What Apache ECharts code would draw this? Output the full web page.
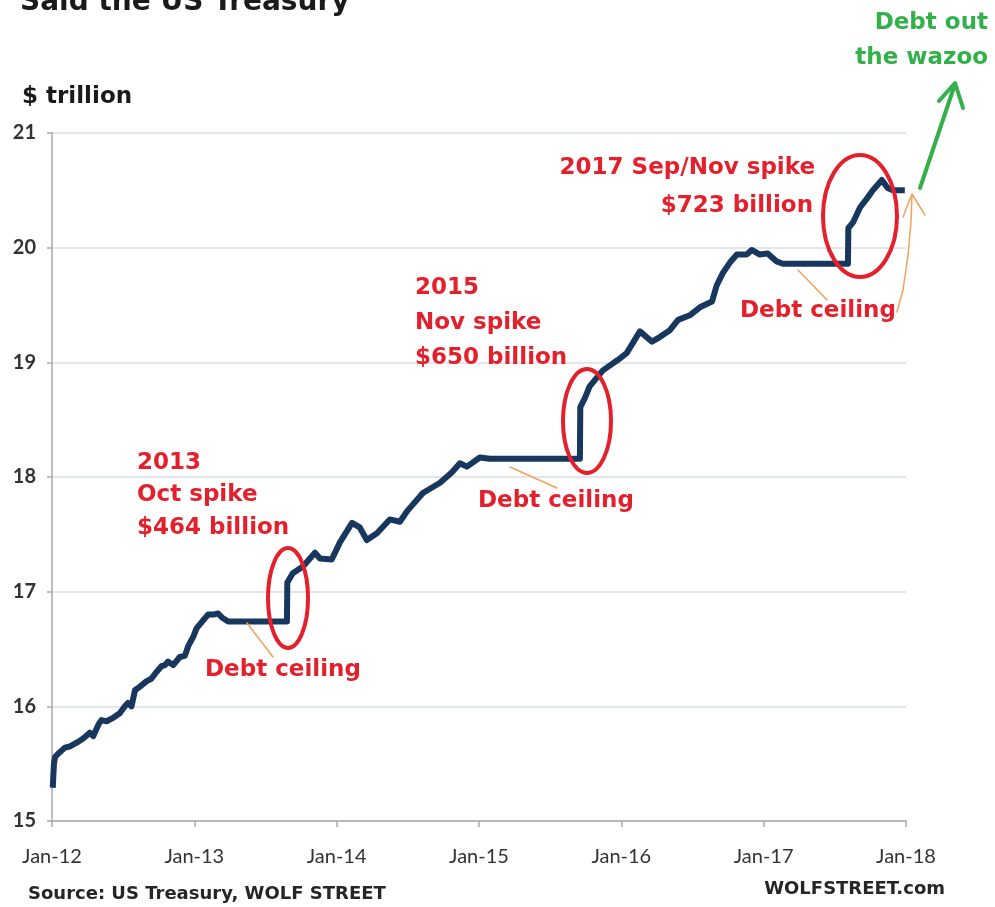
<!DOCTYPE html>
<html>
<head>
<meta charset="utf-8">
<script src="https://cdn.jsdelivr.net/npm/echarts@6.0.0/dist/echarts.min.js"></script>
<style>
	html, body { margin: 0; padding: 0; background: #fff; }
	#chart { width: 995px; height: 907px; }
</style>
</head>
<body>
<div id="chart"></div>
<script>
// Total public debt outstanding, $ trillion
const dates = [
	'2012-01-03', '2012-01-06', '2012-01-09', '2012-01-21', '2012-02-03', '2012-02-16', '2012-03-08', '2012-03-21', '2012-04-07', '2012-04-16',
	'2012-04-29', '2012-05-07', '2012-05-20', '2012-06-06', '2012-06-23', '2012-07-06', '2012-07-14', '2012-07-23', '2012-08-01', '2012-08-13',
	'2012-08-31', '2012-09-12', '2012-09-25', '2012-10-08', '2012-10-17', '2012-10-25', '2012-11-07', '2012-11-24', '2012-12-07', '2012-12-15',
	'2012-12-29', '2013-01-06', '2013-01-23', '2013-02-05', '2013-02-18', '2013-03-02', '2013-03-14', '2013-03-28', '2013-08-26', '2013-08-27',
	'2013-09-10', '2013-10-06', '2013-11-06', '2013-11-19', '2013-12-19', '2014-01-09', '2014-02-09', '2014-03-01', '2014-03-19', '2014-04-14',
	'2014-05-17', '2014-06-12', '2014-06-30', '2014-08-10', '2014-09-23', '2014-10-23', '2014-11-13', '2014-12-01', '2015-01-03', '2015-01-29',
	'2015-09-17', '2015-09-18', '2015-09-30', '2015-10-12', '2015-11-15', '2015-12-23', '2016-01-15', '2016-02-18', '2016-03-20', '2016-04-09',
	'2016-05-05', '2016-05-26', '2016-06-25', '2016-07-21', '2016-08-21', '2016-09-02', '2016-09-18', '2016-10-06', '2016-10-24', '2016-11-18',
	'2016-12-01', '2016-12-22', '2017-01-11', '2017-02-03', '2017-02-19', '2017-08-05', '2017-08-06', '2017-08-18', '2017-09-05', '2017-09-23',
	'2017-10-08', '2017-10-31', '2017-11-15', '2017-11-28', '2017-12-29'
];
const debt = [
	15.29, 15.50, 15.56, 15.60, 15.64, 15.65, 15.69, 15.72, 15.77, 15.74,
	15.84, 15.88, 15.87, 15.90, 15.94, 16.00, 16.03, 16.00, 16.14, 16.17,
	16.22, 16.24, 16.30, 16.35, 16.36, 16.39, 16.36, 16.43, 16.44, 16.52,
	16.61, 16.68, 16.75, 16.80, 16.80, 16.81, 16.77, 16.74, 16.74, 17.08,
	17.16, 17.22, 17.34, 17.29, 17.28, 17.43, 17.60, 17.56, 17.45, 17.51,
	17.63, 17.61, 17.70, 17.86, 17.95, 18.04, 18.12, 18.09, 18.17, 18.16,
	18.16, 18.61, 18.69, 18.79, 18.93, 19.02, 19.08, 19.27, 19.18, 19.22,
	19.28, 19.37, 19.41, 19.48, 19.53, 19.67, 19.78, 19.87, 19.94, 19.94,
	19.98, 19.94, 19.95, 19.88, 19.86, 19.86, 20.17, 20.22, 20.35, 20.43,
	20.50, 20.59, 20.52, 20.50, 20.50
];
const yearLabels = [ 'Jan-12', 'Jan-13', 'Jan-14', 'Jan-15', 'Jan-16', 'Jan-17', 'Jan-18' ];
const yMin = 15;
const yMax = 21;

// x is days since 2012-01-01, so the year ticks can be counted from 0
const DAY = 86400000;
const origin = Date.parse( '2012-01-01' );
const lastDay = ( Date.parse( '2018-01-01' ) - origin ) / DAY;
const toDay = ( s ) => ( Date.parse( s ) - origin ) / DAY;
const seriesData = dates.map( ( d, i ) => [ toDay( d ), debt[ i ] ] );

const RED = '#e3202b';
const ORANGE = '#f4a15c';
const GREEN = '#33b04a';
const TEXT_FONT = '"DejaVu Sans", sans-serif';
const AXIS_FONT = 'Lato, "Open Sans", sans-serif';

function label( text, x, y, size, color, align ) {
	return {
		type: 'text',
		z: 100,
		style: {
			text: text,
			x: x,
			y: y,
			fill: color,
			font: 'bold ' + size + 'px ' + TEXT_FONT,
			align: align || 'left',
			verticalAlign: 'middle'
		}
	};
}

function ring( cx, cy, rx, ry ) {
	return {
		type: 'ellipse',
		z: 90,
		shape: { cx: cx, cy: cy, rx: rx, ry: ry },
		style: { fill: null, stroke: RED, lineWidth: 4 }
	};
}

function stroke( points, color, width ) {
	return {
		type: 'polyline',
		z: 95,
		shape: { points: points },
		style: { fill: null, stroke: color, lineWidth: width, lineCap: 'round', lineJoin: 'round' }
	};
}

const chart = echarts.init( document.getElementById( 'chart' ) );

chart.setOption( {
	backgroundColor: '#fff',
	animation: false,
	grid: { left: 52, right: 89, top: 133, bottom: 86, containLabel: false },
	xAxis: {
		type: 'value',
		min: 0,
		max: lastDay,
		interval: lastDay / 6,
		axisLine: { show: true, lineStyle: { color: '#a9a9a9', width: 1.5 } },
		axisTick: { show: true, length: 6, lineStyle: { color: '#a9a9a9', width: 1.5 } },
		axisLabel: {
			margin: 26,
			color: '#333',
			fontFamily: AXIS_FONT,
			fontSize: 20,
			formatter: ( v ) => yearLabels[ Math.round( v / ( lastDay / 6 ) ) ]
		},
		splitLine: { show: false }
	},
	yAxis: {
		type: 'value',
		min: yMin,
		max: yMax,
		interval: 1,
		axisLine: { show: true, lineStyle: { color: '#a9a9a9', width: 1.5 } },
		axisTick: { show: true, length: 5, lineStyle: { color: '#a9a9a9', width: 1.5 } },
		axisLabel: {
			margin: 16,
			color: '#333',
			fontFamily: AXIS_FONT,
			fontSize: 20,
			fontWeight: 'bold'
		},
		splitLine: { show: true, lineStyle: { color: '#d8dee8', width: 1.5 } }
	},
	series: [ {
		type: 'line',
		data: seriesData,
		showSymbol: false,
		smooth: false,
		lineStyle: { color: '#17375f', width: 6, join: 'round' },
		z: 10
	} ],
	graphic: [
		// headline, cut off at the top edge like the screenshot
		label( 'Said the US Treasury', 20, 3, 28, '#1a1a1a' ),
		label( '$ trillion', 22, 97, 23, '#1a1a1a' ),

		// 2013
		label( '2013', 137, 463, 23, RED ),
		label( 'Oct spike', 137, 495, 23, RED ),
		label( '$464 billion', 137, 528, 23, RED ),
		ring( 288, 598, 20, 50 ),
		stroke( [ [ 247, 623 ], [ 273, 657 ] ], ORANGE, 1.5 ),
		label( 'Debt ceiling', 205, 670, 23, RED ),

		// 2015
		label( '2015', 415, 288, 23, RED ),
		label( 'Nov spike', 415, 323, 23, RED ),
		label( '$650 billion', 415, 358, 23, RED ),
		ring( 587, 421, 24, 52 ),
		stroke( [ [ 510, 467 ], [ 557, 488 ] ], ORANGE, 1.5 ),
		label( 'Debt ceiling', 478, 501, 23, RED ),

		// 2017
		label( '2017 Sep/Nov spike', 815, 168, 23, RED, 'right' ),
		label( '$723 billion', 813, 206, 23, RED, 'right' ),
		ring( 860, 216, 37, 61 ),
		stroke( [ [ 798, 270 ], [ 827, 300 ] ], ORANGE, 1.5 ),
		stroke( [ [ 897, 312 ], [ 903, 290 ], [ 908, 255 ], [ 911, 222 ], [ 912, 195 ] ], ORANGE, 1.5 ),
		stroke( [ [ 903, 217 ], [ 912, 194 ], [ 925, 215 ] ], ORANGE, 1.5 ),
		label( 'Debt ceiling', 740, 311, 23, RED ),

		// what comes next
		label( 'Debt out', 988, 23, 23, GREEN, 'right' ),
		label( 'the wazoo', 988, 58, 23, GREEN, 'right' ),
		stroke( [ [ 920, 188 ], [ 955, 84 ] ], GREEN, 4 ),
		stroke( [ [ 939, 101 ], [ 955, 83 ], [ 963, 108 ] ], GREEN, 4 ),

		// footer
		label( 'Source: US Treasury, WOLF STREET', 28, 894, 18, '#262626' ),
		label( 'WOLFSTREET.com', 945, 889, 18, '#262626', 'right' )
	]
} );
</script>
</body>
</html>
